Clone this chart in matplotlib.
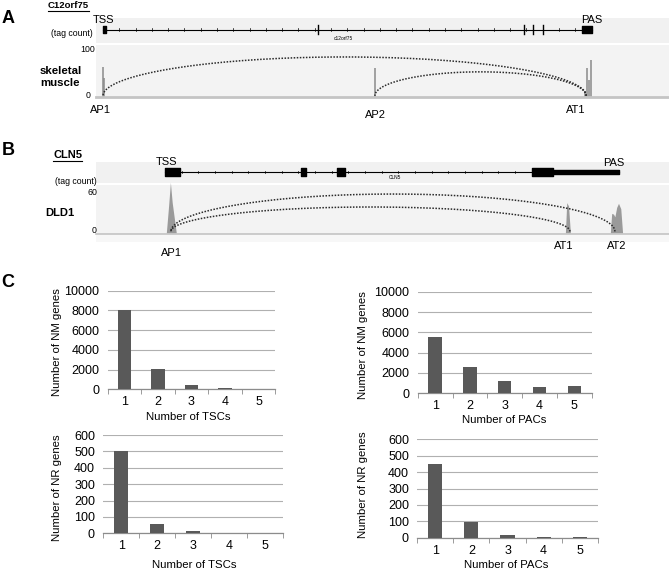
import numpy as np
import matplotlib
matplotlib.use("Agg")
import matplotlib.pyplot as plt
from matplotlib.transforms import blended_transform_factory

plt.rcParams['font.family'] = ['Liberation Sans', 'DejaVu Sans']

W, H = 669, 570

# ---- panel A : C12orf75, skeletal muscle (gene scale: TSS = 0, PAS end = 100)
a_exon_blocks = [(0.0, 0.6), (98.0, 2.0)]
a_exon_ticks = [44.0, 86.1, 87.9, 90.0]
a_peak_pos = [0.0, 0.3, 55.6, 98.6, 99.0, 99.3, 99.8]
a_peak_h = [63, 40, 61, 12, 61, 35, 78]
a_arcs = [(0.0, 98.8, 85), (55.6, 98.8, 53)]   # start, end, apex (tag count)
a_labels = ["AP1", "AP2", "AT1"]

# ---- panel B : CLN5, DLD1
b_exon_blocks = [(0.0, 3.3), (30.0, 1.1), (37.9, 1.7), (80.8, 4.7)]
b_utr = (85.5, 14.5)
b_ap1_x = [0.4, 0.9, 1.3, 1.7, 2.6]
b_ap1_y = [0, 40, 75, 45, 0]
b_at1_x = [88.3, 88.6, 89.0, 89.4]
b_at1_y = [0, 45, 40, 0]
b_at2_x = [98.2, 98.5, 98.9, 99.2, 99.6, 100.0, 100.5, 100.9]
b_at2_y = [0, 29, 28, 24, 38, 44, 36, 0]
b_arcs = [(1.3, 99.1, 58.5), (1.3, 89.2, 39.3)]
b_labels = ["AP1", "AT1", "AT2"]

# ---- panel C : counts
n_cat = [1, 2, 3, 4, 5]
nm_tsc = [8000, 2100, 400, 150, 50]
nm_pac = [5500, 2550, 1250, 650, 750]
nr_tsc = [500, 55, 12, 1, 0]
nr_pac = [450, 95, 15, 5, 5]

fig = plt.figure(figsize=(W / 100, H / 100), dpi=100)


def px_axes(x0, y0, x1, y1):
    return fig.add_axes([x0 / W, 1 - y1 / H, (x1 - x0) / W, (y1 - y0) / H])


def ptext(x, y, s, **kw):
    kw.setdefault('ha', 'center')
    kw.setdefault('va', 'center')
    return fig.text(x / W, 1 - y / H, s, **kw)


def band(x0, y0, x1, y1, color):
    ax = px_axes(x0, y0, x1, y1)
    ax.set_facecolor(color)
    ax.set_xticks([])
    ax.set_yticks([])
    for s in ax.spines.values():
        s.set_visible(False)
    ax.set_zorder(-5)
    return ax


def clean(ax):
    ax.set_xticks([])
    ax.set_yticks([])
    for s in ax.spines.values():
        s.set_visible(False)
    ax.patch.set_alpha(0)


def half_ellipse(ax, x0, x1, top, y0=1.5):
    t = np.linspace(0, np.pi, 200)
    cx, a = (x0 + x1) / 2, (x1 - x0) / 2
    ax.plot(cx + a * np.cos(t), y0 + (top - y0) * np.sin(t),
            color='#2a2a2a', lw=1.1, ls=(0, (1, 1)), zorder=4)


def gene_track(ax, blocks, ticks, step, start, end, line_y, bh):
    ax.plot([start, end], [line_y, line_y], color='black', lw=0.8)
    for p in np.arange(step, end - 1, step):
        ax.plot([p, p], [line_y - 0.07, line_y + 0.07], color='black', lw=0.5)
    for p in ticks:
        ax.plot([p, p], [line_y - 0.18, line_y + 0.18], color='black', lw=1.0)
    ax.broken_barh(blocks, (line_y - bh / 2, bh), color='black')


# ================= panel A
band(96, 18, 669, 43, '#f1f1f1')
band(96, 45, 669, 96.5, '#f3f3f3')
a_sc = 4.89
a_xlim = ((96 - 103) / a_sc, (669 - 103) / a_sc)
ga = px_axes(96, 18, 669, 43)
clean(ga)
ga.set_xlim(a_xlim)
ga.set_ylim(0, 1)
gene_track(ga, a_exon_blocks, a_exon_ticks, 3.33, 0, 100, 0.54, 0.28)
ga.text(49.2, 0.2, "c12orf75", fontsize=3.5, ha='center', va='center')

sa = px_axes(96, 45, 669, 96.5)
clean(sa)
sa.set_xlim(a_xlim)
sa.set_ylim(0, 110.7)
sa.vlines(a_peak_pos, 0, a_peak_h, color='#8a8a8a', lw=1.1)
for x0, x1, top in a_arcs:
    half_ellipse(sa, x0, x1, top)
sa.axhline(0, color='#c4c4c4', lw=2.0, clip_on=False)

ptext(8.5, 18.5, "A", fontsize=13, fontweight='bold')
t_a = ptext(48, 5.5, "C12orf75", fontsize=6.8, fontweight='bold', ha='left')
ptext(104, 20, "TSS", fontsize=8)
ptext(592, 20, "PAS", fontsize=8)
ptext(93, 33, "(tag count)", fontsize=6.3, ha='right')
ptext(95, 50, "100", fontsize=6.3, ha='right')
ptext(90, 96, "0", fontsize=6.3, ha='right')
ptext(40, 77, "skeletal\nmuscle", fontsize=8.2, fontweight='bold', ha='left',
      linespacing=1.2)
for lab, pos, yy in zip(a_labels, [100, 375, 576], [110, 115, 110]):
    ptext(pos, yy, lab, fontsize=8)

# ================= panel B
band(96, 162, 669, 183, '#f1f1f1')
band(96, 185, 669, 233.5, '#f3f3f3')
band(96, 234, 669, 242, '#f7f7f7')
b_sc = 4.54
b_xlim = ((96 - 165) / b_sc, (669 - 165) / b_sc)
gb = px_axes(96, 162, 669, 183)
clean(gb)
gb.set_xlim(b_xlim)
gb.set_ylim(0, 1)
gene_track(gb, b_exon_blocks, [], 3.67, 0, 100, 0.524, 0.34)
gb.broken_barh([b_utr], (0.524 - 0.1, 0.2), color='black')
gb.text(50.7, 0.25, "CLN5", fontsize=3.5, ha='center', va='center')

sb = px_axes(96, 185, 669, 233.5)
clean(sb)
sb.set_xlim(b_xlim)
sb.set_ylim(0, 71.9)
for xs, ys in [(b_ap1_x, b_ap1_y), (b_at1_x, b_at1_y), (b_at2_x, b_at2_y)]:
    sb.fill(xs, ys, color='#9a9a9a', lw=0, clip_on=False)
for x0, x1, top in b_arcs:
    half_ellipse(sb, x0, x1, top, y0=3)
sb.axhline(0, color='#c4c4c4', lw=1.2, clip_on=False)

ptext(8.5, 151, "B", fontsize=13, fontweight='bold')
t_b = ptext(53, 155, "CLN5", fontsize=8, fontweight='bold', ha='left')
ptext(167, 162, "TSS", fontsize=8)
ptext(614, 163, "PAS", fontsize=8)
ptext(97, 181, "(tag count)", fontsize=6.3, ha='right')
ptext(97, 193, "60", fontsize=6.3, ha='right')
ptext(97, 231, "0", fontsize=6.3, ha='right')
ptext(45, 213, "DLD1", fontsize=8, fontweight='bold', ha='left')
for lab, pos, yy in zip(b_labels, [171, 564, 617], [253, 246, 246]):
    ptext(pos, yy, lab, fontsize=8)

# ================= panel C
ptext(7.5, 282.5, "C", fontsize=13, fontweight='bold')


def bar_chart(box, vals, ymax, step, ylab, ylab_xy, xlab, xlab_xy):
    ax = px_axes(*box)
    ax.bar(n_cat, vals, width=0.39, color='#595959', zorder=3)
    ax.set_xlim(0.5, 5.5)
    ax.set_ylim(0, ymax)
    ax.set_yticks(np.arange(0, ymax + 1, step))
    ax.yaxis.grid(True, color='#b0b0b0', lw=0.8)
    ax.set_axisbelow(True)
    for s in ['top', 'right', 'left']:
        ax.spines[s].set_visible(False)
    ax.spines['bottom'].set_color('#8c8c8c')
    ax.spines['bottom'].set_linewidth(0.9)
    ax.set_xticks(n_cat)
    ax.set_xticks(np.arange(0.5, 6, 1), minor=True)
    ax.tick_params(axis='x', which='major', length=0, labelsize=9, pad=5)
    ax.tick_params(axis='x', which='minor', length=3.5, color='#8c8c8c',
                   direction='out')
    ax.tick_params(axis='y', length=0, labelsize=9, pad=6)
    ptext(*ylab_xy, ylab, fontsize=8.2, rotation=90)
    ptext(*xlab_xy, xlab, fontsize=8.2)
    return ax


bar_chart((107.7, 290.7, 275.3, 389.3), nm_tsc, 10000, 2000,
          "Number of NM genes", (57, 342), "Number of TSCs", (188, 417))
bar_chart((417.7, 291.7, 591.7, 393.3), nm_pac, 10000, 2000,
          "Number of NM genes", (363, 345), "Number of PACs", (504, 420))
bar_chart((103.3, 435, 282.7, 533.3), nr_tsc, 600, 100,
          "Number of NR genes", (57, 488), "Number of TSCs", (194, 565))
bar_chart((417.3, 439.3, 597.7, 537.7), nr_pac, 600, 100,
          "Number of NR genes", (363, 485), "Number of PACs", (506, 565))

# underline gene names
fig.canvas.draw()
r = fig.canvas.get_renderer()
for t in (t_a, t_b):
    bb = t.get_window_extent(r).transformed(fig.transFigure.inverted())
    fig.add_artist(plt.Line2D([bb.x0, bb.x1], [bb.y0 - 0.002, bb.y0 - 0.002],
                              color='black', lw=0.8, transform=fig.transFigure))

fig.savefig("out.png", dpi=100)
